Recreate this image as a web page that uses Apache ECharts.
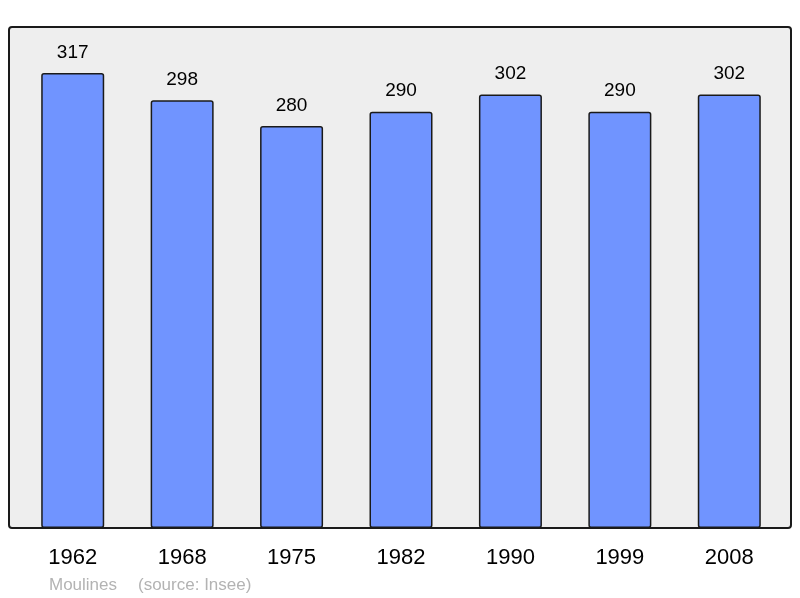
<!DOCTYPE html>
<html>
<head>
<meta charset="utf-8">
<script src="https://cdn.jsdelivr.net/npm/echarts@6/dist/echarts.min.js"></script>
<style>
  html, body { margin: 0; padding: 0; background: #fff; }
  #chart { width: 800px; height: 598px; }
</style>
</head>
<body>
<div id="chart"></div>
<script>
// Population data
var years = ['1962', '1968', '1975', '1982', '1990', '1999', '2008'];
var population = [317, 298, 280, 290, 302, 290, 302];

var chart = echarts.init(document.getElementById('chart'));

var options = {
    animation: false,
    textStyle: { fontFamily: 'Liberation Sans, Arial, sans-serif' },
    graphic: [
        {
            type: 'rect',
            z: -10,
            shape: { x: 9, y: 27, width: 782, height: 501, r: 3 },
            style: { fill: '#eeeeee', stroke: '#1a1a1a', lineWidth: 2 }
        },
        {
            type: 'text',
            left: 49,
            top: 577,
            style: { text: 'Moulines', fill: '#b3b3b3', font: '17px Liberation Sans, Arial, sans-serif' }
        },
        {
            type: 'text',
            left: 138,
            top: 577,
            style: { text: '(source: Insee)', fill: '#b3b3b3', font: '17px Liberation Sans, Arial, sans-serif' }
        }
    ],
    grid: { left: 18, right: 16, top: 27, bottom: 70 },
    xAxis: {
        type: 'category',
        data: years,
        axisLine: { show: false },
        axisTick: { show: false },
        axisLabel: { color: '#000', fontSize: 22, margin: 19 }
    },
    yAxis: {
        type: 'value',
        min: 0,
        max: 349,
        show: false,
        splitLine: { show: false }
    },
    series: [
        {
            type: 'bar',
            data: population,
            barWidth: 63,
            itemStyle: {
                color: '#7094ff',
                borderColor: '#1a1a1a',
                borderWidth: 1.5,
                borderRadius: 2
            },
            label: {
                show: true,
                position: 'top',
                distance: 11,
                color: '#000',
                fontSize: 19
            }
        }
    ]
};

chart.setOption(options);
</script>
</body>
</html>
